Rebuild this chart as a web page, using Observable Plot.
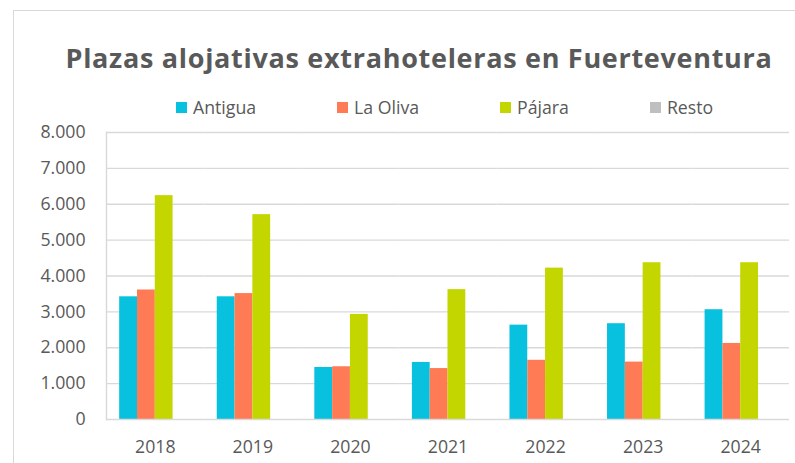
<!DOCTYPE html>
<html>
<head>
<meta charset="utf-8">
<script src="https://cdn.jsdelivr.net/npm/d3@7"></script>
<script src="https://cdn.jsdelivr.net/npm/@observablehq/plot@0.6"></script>
<style>
  html, body { margin: 0; padding: 0; background: #fff; overflow: hidden; }
  #wrap { position: relative; width: 795px; height: 463px; overflow: hidden; font-family: "Open Sans", sans-serif; color: #595959; }
  #border { position: absolute; left: 13px; top: 10px; width: 900px; height: 600px; border-left: 1.5px solid #d9d9d9; border-top: 1.5px solid #d9d9d9; }
  #title { position: absolute; left: 0; width: 838px; top: 44px; text-align: center; font-size: 27px; line-height: 27px; font-weight: 700; letter-spacing: 0.7px; white-space: nowrap; }
  #legend { position: absolute; left: 176px; top: 98.6px; display: flex; gap: 81px; font-size: 17.7px; line-height: 17.7px; }
  .item { display: flex; align-items: center; white-space: nowrap; }
  .sw { width: 11px; height: 11px; margin-right: 6px; }
  #chart { position: absolute; left: 0; top: 120px; }
</style>
</head>
<body>
<div id="wrap">
  <div id="border"></div>
  <div id="title">Plazas alojativas extrahoteleras en Fuerteventura</div>
  <div id="legend"></div>
  <div id="chart"></div>
</div>
<script>
const years = ["2018", "2019", "2020", "2021", "2022", "2023", "2024"];
const series = ["Antigua", "La Oliva", "Pájara", "Resto"];
const colors = ["#07C1DE", "#FF7B55", "#C4D600", "#BFBFBF"];
const antigua = [3420, 3420, 1450, 1590, 2630, 2670, 3060];
const laOliva = [3610, 3510, 1470, 1420, 1650, 1600, 2120];
const pajara  = [6240, 5710, 2930, 3620, 4220, 4370, 4370];
const resto   = [0, 0, 0, 0, 0, 0, 0];
const yTicks  = [0, 1000, 2000, 3000, 4000, 5000, 6000, 7000, 8000];

const values = [antigua, laOliva, pajara, resto];
const data = years.flatMap((y, i) => series.map((s, j) => ({year: y, series: s, value: values[j][i]})));

const fmt = d3.formatLocale({decimal: ",", thousands: ".", grouping: [3], currency: ["", "€"]}).format(",");

// legend
const legend = document.getElementById("legend");
series.forEach((s, j) => {
  const it = document.createElement("div");
  it.className = "item";
  const sw = document.createElement("span");
  sw.className = "sw";
  sw.style.background = colors[j];
  const tx = document.createElement("span");
  tx.textContent = s;
  it.appendChild(sw); it.appendChild(tx);
  legend.appendChild(it);
});

const chart = Plot.plot({
  width: 795,
  height: 343,
  marginLeft: 106,
  marginRight: 6,
  marginTop: 12,
  marginBottom: 44,
  style: {fontFamily: "Open Sans", fontSize: "17.7px", color: "#595959", background: "transparent", overflow: "visible"},
  facet: {data, x: "year"},
  fx: {domain: years, padding: 0, round: false, tickSize: 0, tickPadding: 21, label: null},
  x: {domain: series, paddingInner: 0, paddingOuter: 0.74, round: false, axis: null},
  y: {domain: [0, 8000], ticks: yTicks, tickFormat: fmt, tickSize: 0, tickPadding: 21, label: null},
  color: {domain: series, range: colors},
  marks: [
    Plot.ruleY(yTicks.slice(1), {stroke: "#d9d9d9", strokeWidth: 1.4}),
    Plot.barY(data, {x: "series", y: "value", fill: "series"}),
    Plot.ruleY([0], {stroke: "#d9d9d9", strokeWidth: 1.5}),
    Plot.frame({anchor: "left", facetAnchor: "left", stroke: "#d9d9d9", strokeWidth: 1.4})
  ]
});
document.getElementById("chart").appendChild(chart);
</script>
</body>
</html>
